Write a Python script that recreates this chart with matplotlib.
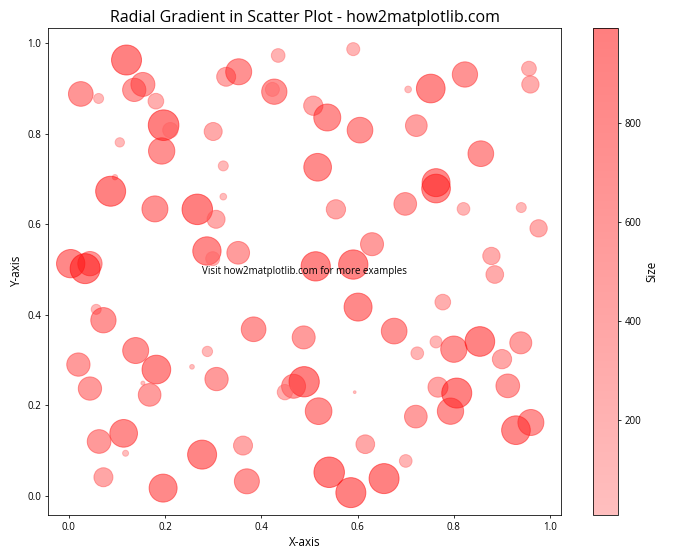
#!/usr/bin/env python3
"""Scatter plot whose marker colour follows marker size (radial gradient look)."""

import matplotlib
matplotlib.use("Agg")
import matplotlib.pyplot as plt
from matplotlib.colors import LinearSegmentedColormap

plt.rcParams["font.family"] = ["Open Sans", "DejaVu Sans"]

# point positions and sizes
x = [0.120, 0.025, 0.062, 0.136, 0.154, 0.181, 0.197, 0.211, 0.106, 0.193,
     0.300, 0.096, 0.087, 0.179, 0.267, 0.306, 0.287, 0.299, 0.004, 0.044,
     0.034, 0.435, 0.591, 0.327, 0.353, 0.427, 0.423, 0.508, 0.537, 0.605,
     0.321, 0.517, 0.321, 0.555, 0.630, 0.352, 0.513, 0.591, 0.705, 0.752,
     0.823, 0.956, 0.959, 0.722, 0.856, 0.763, 0.763, 0.699, 0.820, 0.940,
     0.976, 0.878, 0.885, 0.057, 0.072, 0.139, 0.182, 0.154, 0.020, 0.044,
     0.168, 0.288, 0.256, 0.307, 0.114, 0.063, 0.118, 0.072, 0.196, 0.277,
     0.601, 0.384, 0.488, 0.676, 0.489, 0.467, 0.449, 0.594, 0.519, 0.362,
     0.616, 0.370, 0.541, 0.586, 0.655, 0.700, 0.777, 0.763, 0.724, 0.800,
     0.854, 0.939, 0.900, 0.767, 0.806, 0.793, 0.912, 0.721, 0.929, 0.960]
y = [0.963, 0.888, 0.878, 0.897, 0.909, 0.872, 0.819, 0.808, 0.781, 0.762,
     0.805, 0.704, 0.673, 0.634, 0.633, 0.611, 0.541, 0.524, 0.513, 0.513,
     0.502, 0.973, 0.987, 0.926, 0.937, 0.893, 0.898, 0.862, 0.836, 0.808,
     0.729, 0.726, 0.661, 0.633, 0.556, 0.537, 0.507, 0.511, 0.898, 0.900,
     0.931, 0.944, 0.909, 0.818, 0.756, 0.692, 0.679, 0.645, 0.634, 0.637,
     0.591, 0.530, 0.489, 0.412, 0.388, 0.321, 0.279, 0.249, 0.290, 0.237,
     0.223, 0.319, 0.285, 0.258, 0.138, 0.120, 0.094, 0.041, 0.017, 0.091,
     0.417, 0.368, 0.350, 0.364, 0.252, 0.242, 0.229, 0.229, 0.187, 0.111,
     0.114, 0.032, 0.052, 0.007, 0.038, 0.077, 0.428, 0.340, 0.315, 0.324,
     0.341, 0.338, 0.302, 0.240, 0.227, 0.187, 0.243, 0.175, 0.145, 0.162]
sizes = [952, 645, 106, 574, 609, 260, 992, 248, 92, 733,
         343, 30, 952, 715, 985, 343, 849, 207, 849, 625,
         952, 198, 179, 382, 715, 677, 207, 394, 771, 698,
         106, 811, 47, 394, 560, 544, 909, 909, 47, 871,
         677, 229, 317, 498, 698, 829, 871, 544, 170, 106,
         317, 317, 331, 106, 677, 715, 871, 17, 574, 574,
         544, 113, 23, 574, 811, 594, 38, 382, 829, 890,
         829, 645, 560, 698, 971, 609, 248, 8, 752, 382,
         370, 661, 985, 952, 952, 170, 260, 152, 170, 733,
         932, 512, 394, 423, 952, 733, 594, 544, 871, 715]

cmap = LinearSegmentedColormap.from_list("pink_red", ["#ff8080", "#ff0000"])

fig, ax = plt.subplots(figsize=(10, 8), dpi=70)
sc = ax.scatter(x, y, s=sizes, c=sizes, cmap=cmap, alpha=0.5)
cbar = plt.colorbar(sc, ax=ax)
cbar.set_label("Size", fontsize=12)

ax.set_title("Radial Gradient in Scatter Plot - how2matplotlib.com", fontsize=16.5)
ax.set_xlabel("X-axis", fontsize=12)
ax.set_ylabel("Y-axis", fontsize=12)
ax.set_xlim(-0.043, 1.023)
ax.set_ylim(-0.042, 1.033)
ax.text(0.5, 0.5, "Visit how2matplotlib.com for more examples",
        ha="center", va="center", fontsize=10, transform=ax.transAxes)

fig.tight_layout()
fig.savefig("out.png", dpi=70)
